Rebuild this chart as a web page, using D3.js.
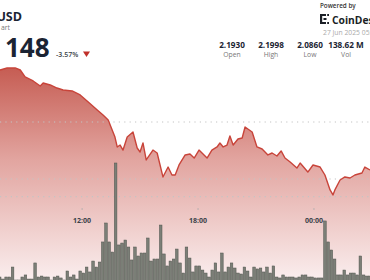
<!DOCTYPE html>
<html lang="en">
<head>
<meta charset="UTF-8">
<title>Chart</title>
<script src="https://d3js.org/d3.v7.min.js"></script>
<style>
  html, body { margin: 0; padding: 0; background: #fff; overflow: hidden; }
  svg { display: block; font-family: "Open Sans", sans-serif; }
</style>
</head>
<body>
<script>
// price line ("day hh:mm")
var priceTimes = ["26 07:45","26 08:07","26 08:32","26 08:48","26 09:03","26 09:28","26 09:50","26 09:59","26 10:21","26 10:42",
  "26 11:01","26 11:29","26 11:54","26 12:19","26 12:47","26 13:05","26 13:21","26 13:42","26 13:49","26 13:58",
  "26 14:07","26 14:20","26 14:38","26 14:51","26 15:00","26 15:09","26 15:19","26 15:40","26 15:53","26 16:11",
  "26 16:27","26 16:39","26 16:49","26 17:01","26 17:20","26 17:35","26 17:48","26 18:03","26 18:28","26 18:43",
  "26 18:59","26 19:08","26 19:18","26 19:30","26 19:39","26 19:49","26 20:04","26 20:17","26 20:26","26 20:48",
  "26 21:03","26 21:19","26 21:37","26 21:50","26 22:05","26 22:18","26 22:30","26 22:46","26 23:07","26 23:17",
  "26 23:41","26 23:57","27 00:19","27 00:34","27 00:50","27 00:59","27 01:05","27 01:21","27 01:36","27 01:52",
  "27 02:07","27 02:29","27 02:38","27 02:54"];
var priceValues = [2.1956,2.1974,2.1974,2.1956,2.1895,2.1860,2.1816,2.1842,2.1825,2.1798,
  2.1781,2.1772,2.1737,2.1675,2.1605,2.1561,2.1518,2.1368,2.1281,2.1298,
  2.1254,2.1368,2.1412,2.1272,2.1237,2.1316,2.1167,2.1254,2.1228,2.1018,
  2.1105,2.1035,2.1035,2.1123,2.1211,2.1219,2.1184,2.1254,2.1184,2.1254,
  2.1281,2.1316,2.1281,2.1298,2.1377,2.1298,2.1351,2.1360,2.1456,2.1412,
  2.1281,2.1263,2.1211,2.1228,2.1202,2.1246,2.1184,2.1149,2.1096,2.1140,
  2.1061,2.1123,2.1105,2.1035,2.0904,2.0860,2.0904,2.0991,2.1018,2.1009,
  2.1035,2.1053,2.1105,2.1079];

// volume bars, one per 10 minutes starting at volumeStart (millions)
var volumeStart = "26 07:40";
var volumes = [0.5,0.33,0.5,0.5,1.33,0.25,0.25,0.5,0.67,0.33,
  0.33,1.67,0.5,0.58,0.5,0.5,0.25,0.5,0.58,0.42,
  0.25,1.0,0.5,0.67,0.33,1.0,0.83,1.33,0.92,1.83,
  1.33,1.75,3.42,5.0,3.42,2.58,10.0,3.17,3.33,3.58,
  3.0,1.92,3.0,2.25,2.5,2.5,3.75,1.83,2.0,2.0,
  4.83,2.42,1.42,1.83,2.0,2.83,1.67,0.83,3.0,2.08,
  0.92,1.42,1.42,1.08,0.83,0.5,1.08,1.67,0.92,2.5,
  0.92,1.33,1.67,1.25,0.83,0.75,1.33,1.0,0.5,1.33,
  1.17,1.25,0.92,1.33,0.83,1.42,0.5,0.42,0.67,0.5,
  0.5,0.5,0.42,0.5,0.67,0.67,0.5,0.5,0.42,0.42,
  0.42,5.17,3.42,2.75,2.0,0.67,0.67,1.08,0.67,0.83,
  0.83,0.67,2.25,0.67,0.58,0.58];

var tickTimes = ["26 12:00", "26 18:00", "27 00:00"];
var tickLabels = ["12:00", "18:00", "00:00"];
var priceGrid = [2.10, 2.15];
var volumeGrid = [7.2];
var statValues = ["2.1930", "2.1998", "2.0860", "138.62 M"];
var statLabels = ["Open", "High", "Low", "Vol"];

var W = 370, H = 280;
var parse = d3.timeParse("%d %H:%M");

var svg = d3.select("body").append("svg").attr("width", W).attr("height", H);

var x = d3.scaleTime().domain([parse("26 07:45"), parse("27 02:54")]).range([0, W]);
var y = d3.scaleLinear().domain([2.10, 2.15]).range([179, 122]);
var yv = d3.scaleLinear().domain([0, 10]).range([283, 163]);

var prices = priceTimes.map(function (t, i) { return { t: parse(t), p: priceValues[i] }; });
var t0 = parse(volumeStart);
var bars = volumes.map(function (v, i) { return { t: d3.timeMinute.offset(t0, i * 10), v: v }; });

var grad = svg.append("defs").append("linearGradient")
  .attr("id", "fill").attr("gradientUnits", "userSpaceOnUse")
  .attr("x1", 0).attr("y1", 62).attr("x2", 0).attr("y2", H);
grad.append("stop").attr("offset", 0).attr("stop-color", "rgb(196,88,78)");
grad.append("stop").attr("offset", 0.45).attr("stop-color", "rgb(226,165,160)");
grad.append("stop").attr("offset", 1).attr("stop-color", "rgb(250,238,238)");

var area = d3.area().x(function (d) { return x(d.t); }).y0(H).y1(function (d) { return y(d.p); });
var line = d3.line().x(function (d) { return x(d.t); }).y(function (d) { return y(d.p); });

svg.append("path").datum(prices).attr("d", area).attr("fill", "url(#fill)");

// dotted grid
var grid = priceGrid.map(function (p) { return y(p); }).concat(volumeGrid.map(function (v) { return yv(v); }));
svg.append("g").selectAll("line").data(grid).enter().append("line")
  .attr("x1", 0).attr("x2", W).attr("y1", function (d) { return d; }).attr("y2", function (d) { return d; })
  .attr("stroke", "#c4c4c4").attr("stroke-width", 1.1).attr("stroke-dasharray", "1.2,4.2");

svg.append("path").datum(prices).attr("d", line)
  .attr("fill", "none").attr("stroke", "#c8443a").attr("stroke-width", 1.4).attr("stroke-linejoin", "round");

// volume
svg.append("g").selectAll("rect").data(bars).enter().append("rect")
  .attr("x", function (d) { return x(d.t); })
  .attr("y", function (d) { return yv(d.v); })
  .attr("width", 2.6)
  .attr("height", function (d) { return yv(0) - yv(d.v); })
  .attr("fill", "#7b7f77").attr("stroke", "#50544e").attr("stroke-width", 0.5);

// time axis
var ticks = svg.append("g").selectAll("g").data(tickTimes).enter().append("g")
  .attr("transform", function (d) { return "translate(" + x(parse(d)) + ",0)"; });
ticks.append("circle").attr("cy", 209).attr("r", 0.7).attr("fill", "#aaa");
ticks.append("text").attr("y", 223).attr("text-anchor", "middle")
  .attr("font-size", 7).attr("font-weight", 700).attr("fill", "#3a3f48")
  .text(function (d, i) { return tickLabels[i]; });

// header
svg.append("text").attr("x", 22).attr("y", 20.5).attr("text-anchor", "end")
  .attr("font-size", 12.5).attr("font-weight", 700).attr("fill", "#1b2433").text("USD");
svg.append("text").attr("x", 10).attr("y", 30).attr("text-anchor", "end")
  .attr("font-size", 6.8).attr("fill", "#777").text("art");
svg.append("text").attr("x", 5).attr("y", 57)
  .attr("font-size", 26).attr("font-weight", 700).attr("fill", "#1b2433").text("148");
svg.append("text").attr("x", 56).attr("y", 56.5)
  .attr("font-size", 7).attr("font-weight", 600).attr("fill", "#3a3f48").text("-3.57%");
svg.append("path").attr("d", "M83,51.5 L90,51.5 L86.5,57 Z").attr("fill", "#c0302a");

svg.append("text").attr("x", 320).attr("y", 8)
  .attr("font-size", 6.3).attr("font-weight", 600).attr("fill", "#333").text("Powered by");
var logo = svg.append("g").attr("fill", "#1b1f26");
logo.append("rect").attr("x", 320).attr("y", 14).attr("width", 2.2).attr("height", 10);
logo.append("rect").attr("x", 320).attr("y", 14).attr("width", 6).attr("height", 2);
logo.append("rect").attr("x", 320).attr("y", 22).attr("width", 6).attr("height", 2);
logo.append("rect").attr("x", 323.5).attr("y", 18).attr("width", 3).attr("height", 2);
logo.append("rect").attr("x", 327.2).attr("y", 14).attr("width", 1.8).attr("height", 2);
logo.append("rect").attr("x", 327.2).attr("y", 22).attr("width", 1.8).attr("height", 2);
svg.append("text").attr("x", 332).attr("y", 23.5)
  .attr("font-size", 10.3).attr("font-weight", 700).attr("fill", "#1b1f26").text("CoinDesk");
svg.append("text").attr("x", 323).attr("y", 34.5)
  .attr("font-size", 6.8).attr("fill", "#aaa").text("27 Jun 2025 05:00 UTC");

var statX = [232, 271, 310, 346];
var st = svg.append("g").selectAll("g").data(statValues).enter().append("g")
  .attr("transform", function (d, i) { return "translate(" + statX[i] + ",0)"; });
st.append("text").attr("y", 47.5).attr("text-anchor", "middle")
  .attr("font-size", 8.2).attr("font-weight", 700).attr("fill", "#1b2433").text(function (d) { return d; });
st.append("text").attr("y", 56.5).attr("text-anchor", "middle")
  .attr("font-size", 6.8).attr("fill", "#777").text(function (d, i) { return statLabels[i]; });
</script>
</body>
</html>
